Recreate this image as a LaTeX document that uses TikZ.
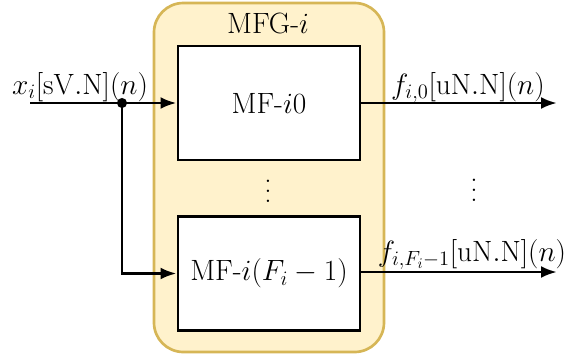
\RequirePackage{fix-cm}
\documentclass[tikz,border=0pt]{standalone}
\usetikzlibrary{arrows.meta}
\definecolor{grpfill}{HTML}{FFF2CC}
\definecolor{grpline}{HTML}{D6B656}
\newcommand{\myvdots}{\vbox{\baselineskip7.5pt\lineskiplimit0pt\hbox{.}\hbox{.}\hbox{.}}}
\begin{document}
\begin{tikzpicture}[x=0.75pt,y=-0.75pt,
  every node/.style={font=\fontsize{22}{26}\selectfont},
  grp/.style={draw=grpline,fill=grpfill,line width=2pt,rounded corners=22pt},
  mfbox/.style={draw=black,fill=white,line width=2.2pt,minimum width=136.5pt,minimum height=85.5pt,inner sep=0pt},
  conn/.style={line width=2.2pt},
  arr/.style={conn,-{Latex[length=12pt,width=9pt]}},
  lbl/.style={inner sep=1pt,anchor=base},
  dots/.style={inner sep=0pt}]
\useasboundingbox (0,0) rectangle (572,355);
\draw[grp] (154,3) rectangle (384,352);
\node (title) at (268,23) {MFG-$i$};
\node[mfbox] (mf0) at (269,103) {MF-$i0$};
\node[mfbox] (mf1) at (269,273.5) {MF-$i(F_i-1)$};
\coordinate (in) at (30,103);
\coordinate (j) at (122,103);
\coordinate (o0) at (557,103);
\coordinate (o1) at (557,272);
\draw[conn] (in) -- (j);
\draw[arr] (j) -- (mf0.west);
\draw[arr] (j) |- (mf1.west);
\fill (j) circle (3.8pt);
\draw[arr] (mf0.east) -- (o0);
\draw[arr] (mf1.east |- o1) -- (o1);
\node[lbl] (lin) at (80,94) {$x_i[\mathrm{sV.N}](n)$};
\node[lbl] (lo0) at (468,94) {$f_{i,0}[\mathrm{uN.N}](n)$};
\node[lbl] (lo1) at (472,261) {$f_{i,F_i-1}[\mathrm{uN.N}](n)$};
\node[dots] (d0) at (268,191) {\myvdots};
\node[dots] (d1) at (474,190) {\myvdots};
\end{tikzpicture}
\end{document}
